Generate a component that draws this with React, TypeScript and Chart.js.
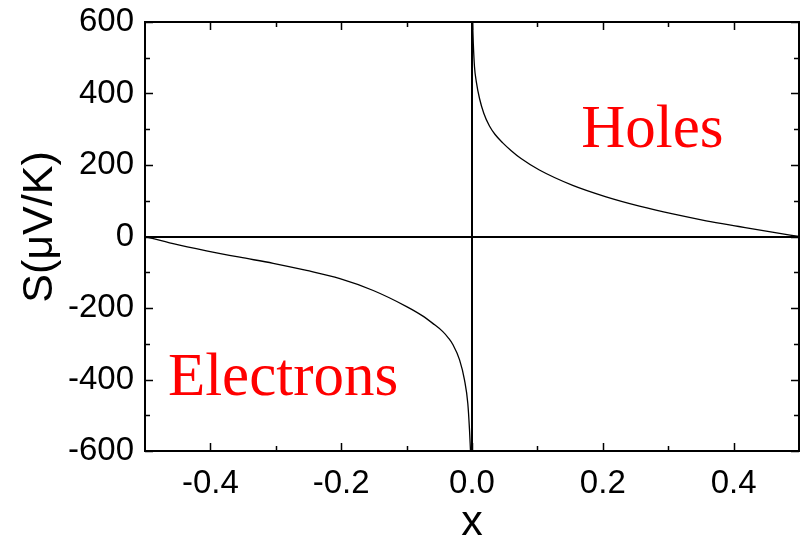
import React, { useEffect, useRef } from "react";
import { Chart, registerables } from "chart.js";

Chart.register(...registerables);

// Hole branch (x > 0): Seebeck coefficient in µV/K
const holeX = [0.0009, 0.002, 0.0038, 0.0065, 0.0115, 0.018, 0.0267, 0.035, 0.047, 0.06, 0.075, 0.103, 0.154, 0.205, 0.256, 0.307, 0.358, 0.408, 0.459, 0.5];
const holeS = [600, 540, 475, 434, 386, 345, 309, 286, 262, 240, 218, 186, 143, 111, 85, 63, 44, 28, 12, 0];

// Electron branch (x < 0)
const electronX = [-0.5, -0.457, -0.406, -0.355, -0.304, -0.253, -0.202, -0.151, -0.1, -0.0756, -0.06, -0.0446, -0.036, -0.0293, -0.019, -0.0115, -0.0064, -0.0038, -0.0023];
const electronS = [0, -20, -40, -58, -75, -95, -118, -151, -196, -222, -243, -266, -284, -302, -345, -401, -467, -541, -600];

const xTicks = [-0.4, -0.2, 0.0, 0.2, 0.4];
const xMinorTicks = [-0.3, -0.1, 0.1, 0.3];
const yTicks = [-600, -400, -200, 0, 200, 400, 600];
const yMinorTicks = [-500, -300, -100, 100, 300, 500];

const regionLabels = [
  { text: "Holes", x: 0.167, y: 250 },
  { text: "Electrons", x: -0.465, y: -443 },
];

const SANS = '"Liberation Sans", Arial, sans-serif';
const SERIF = '"Liberation Serif", "Times New Roman", serif';

const framePlugin = {
  id: "frame",
  afterDatasetsDraw(chart: any) {
    const { ctx, chartArea: a, scales } = chart;
    const xs = scales.x;
    const ys = scales.y;
    ctx.save();
    ctx.strokeStyle = "#000";

    // zero lines
    ctx.lineWidth = 2;
    const y0 = Math.round(ys.getPixelForValue(0));
    const x0 = Math.round(xs.getPixelForValue(0));
    ctx.beginPath();
    ctx.moveTo(a.left, y0);
    ctx.lineTo(a.right, y0);
    ctx.moveTo(x0, a.top);
    ctx.lineTo(x0, a.bottom);
    ctx.stroke();

    // inward ticks on all four sides
    ctx.lineWidth = 1.5;
    const tick = (v: number, len: number, horiz: boolean) => {
      if (horiz) {
        const p = Math.round(xs.getPixelForValue(v)) + 0.5;
        ctx.moveTo(p, a.bottom);
        ctx.lineTo(p, a.bottom - len);
        ctx.moveTo(p, a.top);
        ctx.lineTo(p, a.top + len);
      } else {
        const p = Math.round(ys.getPixelForValue(v)) + 0.5;
        ctx.moveTo(a.left, p);
        ctx.lineTo(a.left + len, p);
        ctx.moveTo(a.right, p);
        ctx.lineTo(a.right - len, p);
      }
    };
    ctx.beginPath();
    xTicks.forEach((v) => tick(v, 8, true));
    xMinorTicks.forEach((v) => tick(v, 5, true));
    yTicks.forEach((v) => tick(v, 8, false));
    yMinorTicks.forEach((v) => tick(v, 5, false));
    ctx.stroke();

    // frame
    ctx.lineWidth = 2;
    ctx.strokeRect(a.left, a.top, a.right - a.left, a.bottom - a.top);

    // region labels
    ctx.fillStyle = "#ff0000";
    ctx.font = `61px ${SERIF}`;
    ctx.textAlign = "left";
    ctx.textBaseline = "alphabetic";
    regionLabels.forEach((l) => {
      ctx.fillText(l.text, xs.getPixelForValue(l.x), ys.getPixelForValue(l.y));
    });

    // axis titles
    ctx.fillStyle = "#000";
    ctx.font = `43px ${SANS}`;
    ctx.textAlign = "center";
    ctx.fillText("x", x0, 535);
    ctx.save();
    ctx.translate(52, 227);
    ctx.rotate(-Math.PI / 2);
    ctx.fillText("S(\u03bcV/K)", 0, 0);
    ctx.restore();

    ctx.restore();
  },
};

export default function App() {
  const ref = useRef<HTMLCanvasElement>(null);

  useEffect(() => {
    document.body.style.margin = "0";
    const line = {
      showLine: true,
      borderColor: "#000",
      borderWidth: 1.3,
      pointRadius: 0,
      cubicInterpolationMode: "monotone",
    };
    const chart = new Chart(ref.current!, {
      type: "scatter",
      data: {
        datasets: [
          { ...line, data: holeX.map((x, i) => ({ x, y: holeS[i] })) },
          { ...line, data: electronX.map((x, i) => ({ x, y: electronS[i] })) },
        ],
      },
      options: {
        animation: false,
        responsive: false,
        layout: { padding: { top: 22, right: 1, left: 0, bottom: 0 } },
        plugins: { legend: { display: false }, tooltip: { enabled: false } },
        scales: {
          x: {
            type: "linear",
            min: -0.5,
            max: 0.5,
            afterBuildTicks: (s: any) => {
              s.ticks = xTicks.map((v) => ({ value: v }));
            },
            afterFit: (s: any) => {
              s.height = 86;
              s.paddingLeft = 0;
              s.paddingRight = 0;
            },
            grid: { display: false, drawTicks: false },
            border: { display: false },
            ticks: {
              color: "#000",
              padding: 13,
              font: { family: SANS, size: 33 },
              callback: (v: any) => Number(v).toFixed(1),
            },
          },
          y: {
            type: "linear",
            min: -600,
            max: 600,
            afterBuildTicks: (s: any) => {
              s.ticks = yTicks.map((v) => ({ value: v }));
            },
            afterFit: (s: any) => {
              s.width = 145;
              s.paddingTop = 0;
              s.paddingBottom = 0;
            },
            grid: { display: false, drawTicks: false },
            border: { display: false },
            ticks: {
              color: "#000",
              padding: 11,
              font: { family: SANS, size: 33 },
              callback: (v: any) => String(v),
            },
          },
        },
      },
      plugins: [framePlugin],
    } as any);
    return () => chart.destroy();
  }, []);

  return (
    <div style={{ width: 800, height: 537, background: "#fff" }}>
      <canvas ref={ref} width={800} height={537} />
    </div>
  );
}
